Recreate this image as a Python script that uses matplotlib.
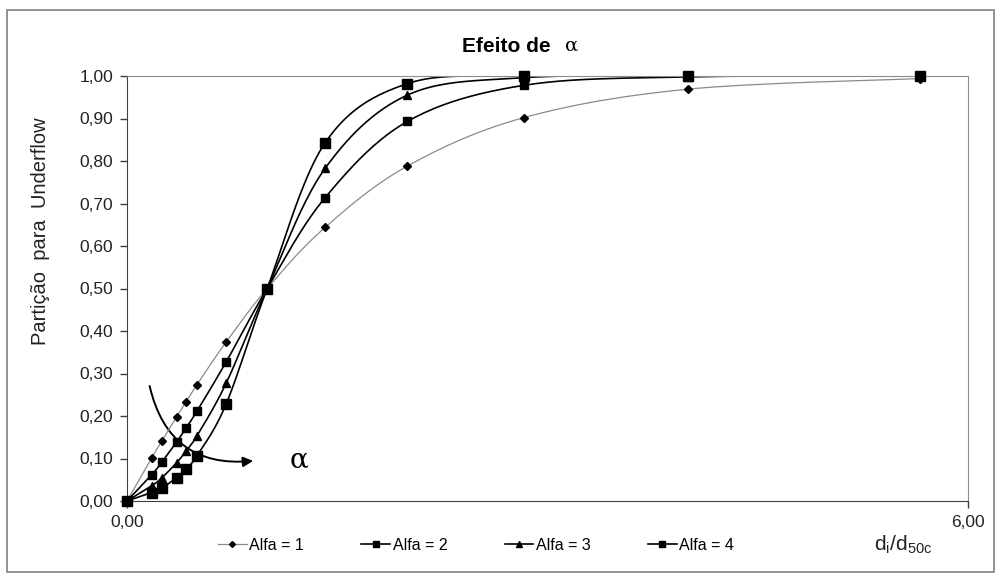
import numpy as np
import matplotlib
matplotlib.use("Agg")
import matplotlib.pyplot as plt
from matplotlib.patches import Rectangle, FancyArrowPatch

plt.rcParams['font.family'] = ['Liberation Sans', 'DejaVu Sans']

# dados
x = [0.0, 0.177, 0.25, 0.354, 0.42, 0.5, 0.707, 1.0, 1.414, 2.0, 2.83, 4.0, 5.66]
alfa1 = [0.0, 0.102, 0.142, 0.198, 0.233, 0.274, 0.374, 0.5, 0.644, 0.788, 0.902, 0.969, 0.994]
alfa2 = [0.0, 0.062, 0.092, 0.139, 0.171, 0.212, 0.327, 0.5, 0.714, 0.893, 0.978, 0.998, 1.0]
alfa3 = [0.0, 0.036, 0.055, 0.090, 0.117, 0.154, 0.277, 0.5, 0.783, 0.955, 0.996, 1.0, 1.0]
alfa4 = [0.0, 0.020, 0.031, 0.055, 0.076, 0.107, 0.228, 0.5, 0.843, 0.982, 1.0, 1.0, 1.0]
rotulos = ["Alfa = 1", "Alfa = 2", "Alfa = 3", "Alfa = 4"]


def suavizar(xs, ys, n=24):
    # linha suavizada estilo Excel (Bezier / Catmull-Rom)
    pts = np.column_stack([xs, ys])
    P = np.vstack([pts[0], pts, pts[-1]])
    t = np.linspace(0, 1, n, endpoint=False)[:, None]
    out = []
    for i in range(1, len(P) - 2):
        p0, p1, p2, p3 = P[i - 1], P[i], P[i + 1], P[i + 2]
        c1 = p1 + (p2 - p0) / 6
        c2 = p2 - (p3 - p1) / 6
        out.append((1 - t) ** 3 * p1 + 3 * (1 - t) ** 2 * t * c1
                   + 3 * (1 - t) * t ** 2 * c2 + t ** 3 * p2)
    out.append(pts[-1:])
    s = np.vstack(out)
    return s[:, 0], s[:, 1]


fig = plt.figure(figsize=(10.01, 5.78), dpi=100)
ax = fig.add_axes([127 / 1001, 1 - 501 / 578, (968 - 127) / 1001, (501 - 76) / 578])

# moldura externa
fig.patches.append(Rectangle((7 / 1001, 1 - 572 / 578), (994 - 7) / 1001, (572 - 10) / 578,
                             transform=fig.transFigure, fill=False, ec="#808080", lw=1.2))

estilos = [
    (alfa1, "D", 4, "#8a8a8a", 0.9),
    (alfa2, "s", 6, "black", 1.2),
    (alfa3, "^", 6, "black", 1.2),
    (alfa4, "s", 6.5, "black", 1.2),
]
for (ys, mk, ms, cor, lw), lab in zip(estilos, rotulos):
    sx, sy = suavizar(x, ys)
    ax.plot(sx, sy, color=cor, lw=lw, zorder=2)
    ax.plot(x, ys, ls="none", marker=mk, ms=ms, color="black", clip_on=False, zorder=3)
    ax.plot([], [], color=cor, lw=lw, marker=mk, ms=ms * 0.75, mfc="black", mec="black", label=lab)

ax.set_xlim(0, 6)
ax.set_ylim(0, 1)
ax.set_xticks([0, 6])
ax.set_xticklabels(["0,00", "6,00"])
ax.set_yticks(np.arange(0, 1.01, 0.1))
ax.set_yticklabels([f"{v:.2f}".replace(".", ",") for v in np.arange(0, 1.01, 0.1)])
ax.tick_params(direction="out", length=5, width=1, color="#404040", labelsize=12.5,
               labelcolor="#222222", pad=5)
for lado in ["top", "right"]:
    ax.spines[lado].set_color("#8c8c8c")
for lado in ["left", "bottom"]:
    ax.spines[lado].set_color("#404040")

ax.set_ylabel("Partição  para  Underflow", fontsize=14.5, color="#222222")
ax.yaxis.set_label_coords(-0.091, 0.635)
fig.text(462 / 1001, 1 - 47 / 578, "Efeito de", ha="left", va="center",
         fontsize=15, fontweight="bold")
fig.text(572 / 1001, 1 - 46 / 578, "α", ha="center", va="center",
         fontsize=14, family="DejaVu Serif")
fig.text(903 / 1001, 1 - 545 / 578, r"d$_\mathregular{i}$/d$_\mathregular{50c}$",
         ha="center", va="center", fontsize=15, color="#222222")

# seta curva indicando o aumento de alfa
seta = FancyArrowPatch((0.157, 0.277), (0.92, 0.095), connectionstyle="arc3,rad=0.45",
                       arrowstyle="-|>,head_length=6,head_width=3", lw=1.4, color="black")
ax.add_patch(seta)
ax.text(1.23, 0.097, "α", fontsize=20, ha="center", va="center", family="DejaVu Serif")

fig.legend(loc="center left", bbox_to_anchor=(210 / 1001, 1 - 545 / 578), ncol=4,
           frameon=False, fontsize=11.5, handlelength=1.8, handletextpad=0.15,
           columnspacing=3.6, borderpad=0)

fig.savefig("out.png", dpi=100)
